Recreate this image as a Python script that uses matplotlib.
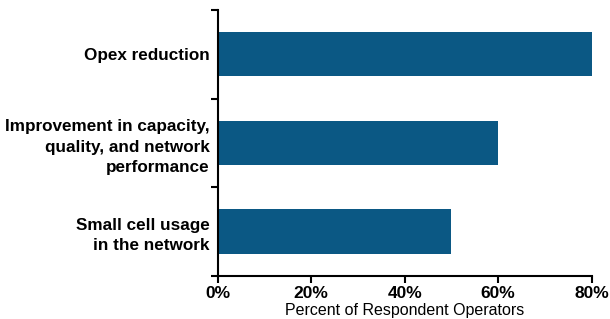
import matplotlib
matplotlib.use("Agg")
from matplotlib import pyplot as plt
from matplotlib.ticker import FixedLocator

categories = ["Small cell usage\nin the network",
              "Improvement in capacity,\nquality, and network\nperformance",
              "Opex reduction"]
values = [50, 60, 80]
xticks = [0, 20, 40, 60, 80]
xticklabels = ["0%", "20%", "40%", "60%", "80%"]

plt.rcParams['font.family'] = ['Liberation Sans', 'DejaVu Sans']

fig = plt.figure(figsize=(6.1, 3.19), dpi=100)
ax = fig.add_axes([0.357, 0.135, 0.613, 0.834])

ax.barh(range(len(categories)), values, height=0.5, color='#0b5884')

ax.set_xlim(0, 80)
ax.set_ylim(-0.5, 2.5)
ax.set_xticks(xticks)
ax.set_xticklabels(xticklabels, fontsize=12.5, fontweight='bold')
ax.set_yticks(range(len(categories)))
ax.set_yticklabels(categories, fontsize=12.3, fontweight='bold', linespacing=1.45)
ax.tick_params(axis='y', length=0, pad=6)
ax.yaxis.set_minor_locator(FixedLocator([-0.5, 0.5, 1.5, 2.5]))
ax.tick_params(axis='y', which='minor', length=5, width=1.5)
ax.tick_params(axis='x', length=5, width=1.5, pad=2)
ax.set_xlabel("Percent of Respondent Operators", fontsize=11.5, labelpad=2)

for s in ['top', 'right']:
    ax.spines[s].set_visible(False)
for s in ['left', 'bottom']:
    ax.spines[s].set_linewidth(1.5)
ax.spines['left'].set_bounds(-0.5, 2.5)

fig.savefig("out.png", dpi=100)
